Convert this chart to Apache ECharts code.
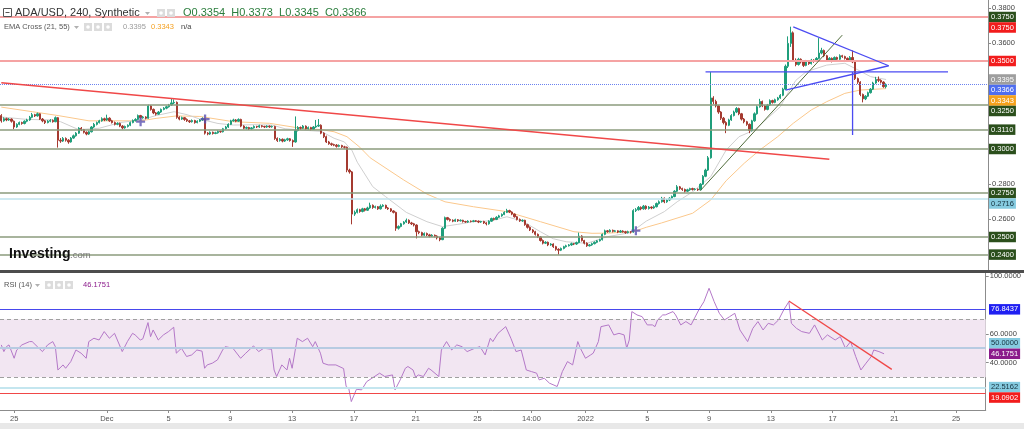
<!DOCTYPE html>
<html><head><meta charset="utf-8">
<script src="https://cdn.jsdelivr.net/npm/echarts@6/dist/echarts.min.js"></script>
<style>html,body{margin:0;padding:0;background:#fff;}#c{width:1024px;height:429px;}</style>
</head><body><div id="c"></div>
<script>
// ---------- DATA ----------
// ADA/USD 4h candles: [open, close, low, high]
const candles = [
[.3190,.3160,.3150,.3198],[.3160,.3172,.3155,.3180],[.3172,.3165,.3158,.3178],[.3165,.3170,.3160,.3176],[.3170,.3158,.3150,.3174],[.3158,.3125,.3112,.3162],[.3125,.3140,.3120,.3146],[.3140,.3150,.3135,.3156],[.3150,.3145,.3138,.3155],[.3145,.3158,.3140,.3163],
[.3158,.3165,.3152,.3172],[.3165,.3180,.3160,.3188],[.3180,.3195,.3175,.3205],[.3195,.3188,.3182,.3200],[.3188,.3200,.3184,.3207],[.3200,.3170,.3165,.3203],[.3170,.3160,.3152,.3176],[.3160,.3150,.3142,.3165],[.3150,.3158,.3146,.3164],[.3158,.3162,.3152,.3170],
[.3162,.3155,.3150,.3168],[.3155,.3178,.3152,.3185],[.3178,.3050,.3008,.3182],[.3050,.3045,.3035,.3062],[.3045,.3060,.3040,.3068],[.3060,.3050,.3042,.3066],[.3050,.3040,.3030,.3056],[.3040,.3062,.3036,.3068],[.3062,.3075,.3058,.3082],[.3075,.3090,.3070,.3096],
[.3090,.3118,.3086,.3124],[.3118,.3110,.3102,.3125],[.3110,.3095,.3088,.3114],[.3095,.3085,.3078,.3100],[.3085,.3098,.3080,.3104],[.3098,.3125,.3094,.3130],[.3125,.3140,.3120,.3148],[.3140,.3150,.3134,.3156],[.3150,.3160,.3145,.3166],[.3160,.3172,.3155,.3180],
[.3172,.3165,.3158,.3178],[.3165,.3175,.3160,.3195],[.3175,.3160,.3154,.3180],[.3160,.3150,.3145,.3166],[.3150,.3140,.3134,.3156],[.3140,.3145,.3135,.3152],[.3145,.3130,.3124,.3150],[.3130,.3120,.3112,.3136],[.3120,.3128,.3115,.3133],[.3128,.3135,.3122,.3140],
[.3135,.3150,.3130,.3156],[.3150,.3162,.3146,.3168],[.3162,.3168,.3156,.3175],[.3168,.3190,.3164,.3196],[.3190,.3178,.3172,.3194],[.3178,.3182,.3172,.3188],[.3182,.3175,.3168,.3186],[.3175,.3245,.3172,.3252],[.3245,.3225,.3218,.3250],[.3225,.3205,.3198,.3230],
[.3205,.3198,.3190,.3210],[.3198,.3210,.3194,.3216],[.3210,.3225,.3205,.3230],[.3225,.3232,.3220,.3238],[.3232,.3240,.3226,.3246],[.3240,.3250,.3235,.3256],[.3250,.3262,.3245,.3285],[.3262,.3265,.3255,.3282],[.3265,.3180,.3172,.3270],[.3180,.3170,.3163,.3186],
[.3170,.3178,.3165,.3184],[.3178,.3168,.3160,.3182],[.3168,.3160,.3154,.3174],[.3160,.3155,.3148,.3165],[.3155,.3162,.3150,.3168],[.3162,.3150,.3144,.3166],[.3150,.3158,.3146,.3163],[.3158,.3165,.3153,.3170],[.3165,.3172,.3160,.3180],[.3172,.3090,.3082,.3176],
[.3090,.3085,.3078,.3096],[.3085,.3095,.3080,.3100],[.3095,.3088,.3082,.3099],[.3088,.3092,.3084,.3098],[.3092,.3100,.3087,.3106],[.3100,.3098,.3092,.3104],[.3098,.3115,.3094,.3120],[.3115,.3125,.3110,.3131],[.3125,.3140,.3120,.3146],[.3140,.3160,.3136,.3166],
[.3160,.3165,.3155,.3172],[.3165,.3158,.3152,.3170],[.3158,.3168,.3154,.3174],[.3168,.3130,.3124,.3172],[.3130,.3118,.3112,.3135],[.3118,.3122,.3112,.3128],[.3122,.3115,.3108,.3126],[.3115,.3120,.3110,.3125],[.3120,.3128,.3116,.3134],[.3128,.3125,.3119,.3132],
[.3125,.3132,.3120,.3138],[.3132,.3128,.3122,.3136],[.3128,.3125,.3119,.3132],[.3125,.3130,.3120,.3135],[.3130,.3126,.3120,.3134],[.3126,.3128,.3121,.3133],[.3128,.3060,.3052,.3132],[.3060,.3048,.3040,.3066],[.3048,.3055,.3042,.3062],[.3055,.3045,.3038,.3060],
[.3045,.3052,.3040,.3058],[.3052,.3058,.3046,.3064],[.3058,.3048,.3042,.3062],[.3048,.3040,.3012,.3054],[.3040,.3105,.3036,.3185],[.3105,.3122,.3100,.3130],[.3122,.3118,.3110,.3128],[.3118,.3130,.3114,.3136],[.3130,.3115,.3110,.3134],[.3115,.3122,.3110,.3128],
[.3122,.3112,.3106,.3126],[.3112,.3125,.3108,.3130],[.3125,.3130,.3120,.3165],[.3130,.3135,.3125,.3170],[.3135,.3090,.3084,.3140],[.3090,.3070,.3062,.3095],[.3070,.3040,.3034,.3076],[.3040,.3030,.3024,.3046],[.3030,.3025,.3018,.3036],[.3025,.3022,.3016,.3030],
[.3022,.3015,.3008,.3028],[.3015,.3020,.3010,.3026],[.3020,.3012,.3006,.3024],[.3012,.3010,.3002,.3018],[.3010,.2880,.2868,.3014],[.2880,.2870,.2860,.2888],[.2870,.2630,.2572,.2875],[.2630,.2640,.2620,.2650],[.2640,.2655,.2634,.2662],[.2655,.2645,.2638,.2660],
[.2645,.2660,.2640,.2666],[.2660,.2652,.2645,.2665],[.2652,.2665,.2648,.2672],[.2665,.2680,.2660,.2695],[.2680,.2668,.2660,.2685],[.2668,.2672,.2662,.2678],[.2672,.2660,.2654,.2676],[.2660,.2675,.2656,.2685],[.2675,.2680,.2670,.2686],[.2680,.2665,.2660,.2684],
[.2665,.2660,.2654,.2670],[.2660,.2648,.2642,.2664],[.2648,.2640,.2634,.2652],[.2640,.2550,.2535,.2644],[.2550,.2560,.2542,.2566],[.2560,.2575,.2555,.2580],[.2575,.2585,.2570,.2590],[.2585,.2595,.2580,.2605],[.2595,.2580,.2574,.2600],[.2580,.2575,.2568,.2586],
[.2575,.2568,.2560,.2580],[.2568,.2530,.2492,.2572],[.2530,.2525,.2516,.2536],[.2525,.2510,.2504,.2530],[.2510,.2520,.2505,.2526],[.2520,.2512,.2505,.2525],[.2512,.2505,.2498,.2518],[.2505,.2510,.2500,.2516],[.2510,.2505,.2498,.2514],[.2505,.2495,.2486,.2510],
[.2495,.2485,.2476,.2500],[.2485,.2550,.2482,.2556],[.2550,.2610,.2545,.2616],[.2610,.2600,.2594,.2614],[.2600,.2595,.2588,.2606],[.2595,.2590,.2584,.2600],[.2590,.2598,.2586,.2604],[.2598,.2592,.2586,.2602],[.2592,.2595,.2588,.2600],[.2595,.2588,.2582,.2598],
[.2588,.2585,.2580,.2592],[.2585,.2590,.2580,.2595],[.2590,.2588,.2583,.2594],[.2588,.2592,.2584,.2597],[.2592,.2590,.2585,.2596],[.2590,.2585,.2579,.2594],[.2585,.2588,.2580,.2592],[.2588,.2580,.2574,.2592],[.2580,.2575,.2566,.2584],[.2575,.2590,.2570,.2595],
[.2590,.2605,.2586,.2610],[.2605,.2600,.2594,.2610],[.2600,.2612,.2596,.2618],[.2612,.2620,.2608,.2626],[.2620,.2628,.2615,.2634],[.2628,.2640,.2624,.2646],[.2640,.2650,.2636,.2660],[.2650,.2642,.2636,.2655],[.2642,.2630,.2624,.2646],[.2630,.2615,.2610,.2634],
[.2615,.2600,.2594,.2620],[.2600,.2592,.2586,.2605],[.2592,.2595,.2586,.2600],[.2595,.2570,.2564,.2598],[.2570,.2555,.2548,.2575],[.2555,.2540,.2534,.2560],[.2540,.2530,.2522,.2545],[.2530,.2515,.2508,.2535],[.2515,.2500,.2494,.2520],[.2500,.2480,.2474,.2505],
[.2480,.2465,.2458,.2486],[.2465,.2470,.2460,.2476],[.2470,.2455,.2448,.2474],[.2455,.2460,.2450,.2465],[.2460,.2445,.2438,.2464],[.2445,.2430,.2422,.2450],[.2430,.2425,.2400,.2436],[.2425,.2435,.2420,.2440],[.2435,.2445,.2430,.2450],[.2445,.2450,.2440,.2456],
[.2450,.2455,.2446,.2460],[.2455,.2462,.2450,.2468],[.2462,.2460,.2454,.2466],[.2460,.2468,.2455,.2474],[.2468,.2505,.2464,.2525],[.2505,.2480,.2474,.2510],[.2480,.2465,.2458,.2484],[.2465,.2450,.2444,.2470],[.2450,.2455,.2446,.2460],[.2455,.2462,.2450,.2468],
[.2462,.2470,.2458,.2475],[.2470,.2478,.2465,.2483],[.2478,.2485,.2474,.2490],[.2485,.2515,.2480,.2520],[.2515,.2535,.2510,.2542],[.2535,.2530,.2524,.2540],[.2530,.2538,.2526,.2544],[.2538,.2532,.2526,.2542],[.2532,.2535,.2528,.2540],[.2535,.2528,.2522,.2538],
[.2528,.2534,.2524,.2540],[.2534,.2530,.2525,.2538],[.2530,.2525,.2518,.2535],[.2525,.2530,.2520,.2536],[.2530,.2528,.2520,.2534],[.2528,.2650,.2524,.2658],[.2650,.2655,.2642,.2664],[.2655,.2668,.2650,.2676],[.2668,.2660,.2652,.2674],[.2660,.2675,.2655,.2682],
[.2675,.2662,.2655,.2680],[.2662,.2670,.2656,.2676],[.2670,.2665,.2658,.2674],[.2665,.2672,.2660,.2680],[.2672,.2690,.2668,.2696],[.2690,.2700,.2684,.2708],[.2700,.2720,.2695,.2728],[.2720,.2700,.2692,.2725],[.2700,.2710,.2694,.2716],[.2710,.2720,.2704,.2726],
[.2720,.2730,.2714,.2736],[.2730,.2760,.2726,.2766],[.2760,.2785,.2755,.2795],[.2785,.2775,.2768,.2790],[.2775,.2770,.2762,.2780],[.2770,.2760,.2752,.2775],[.2760,.2768,.2755,.2774],[.2768,.2775,.2762,.2780],[.2775,.2770,.2764,.2780],[.2770,.2772,.2765,.2778],
[.2772,.2768,.2762,.2776],[.2768,.2800,.2765,.2806],[.2800,.2845,.2796,.2852],[.2845,.2880,.2840,.2888],[.2880,.2950,.2875,.2960],[.2950,.3290,.2945,.3437],[.3290,.3270,.3255,.3300],[.3270,.3245,.3236,.3280],[.3245,.3210,.3200,.3250],[.3210,.3175,.3165,.3215],
[.3175,.3150,.3140,.3182],[.3150,.3135,.3090,.3158],[.3135,.3165,.3130,.3172],[.3165,.3190,.3160,.3198],[.3190,.3210,.3185,.3218],[.3210,.3230,.3204,.3238],[.3230,.3200,.3192,.3235],[.3200,.3170,.3162,.3205],[.3170,.3155,.3146,.3176],[.3155,.3140,.3132,.3160],
[.3140,.3105,.3090,.3145],[.3105,.3160,.3100,.3166],[.3160,.3200,.3155,.3208],[.3200,.3240,.3195,.3248],[.3240,.3270,.3235,.3285],[.3270,.3245,.3238,.3275],[.3245,.3225,.3218,.3250],[.3225,.3250,.3220,.3256],[.3250,.3275,.3245,.3282],[.3275,.3265,.3258,.3280],
[.3265,.3280,.3260,.3286],[.3280,.3290,.3274,.3296],[.3290,.3305,.3285,.3312],[.3305,.3340,.3300,.3348],[.3340,.3470,.3335,.3480],[.3470,.3600,.3460,.3640],[.3600,.3660,.3580,.3695],[.3660,.3505,.3495,.3668],[.3505,.3480,.3470,.3515],[.3480,.3510,.3474,.3518],
[.3510,.3495,.3486,.3515],[.3495,.3475,.3466,.3500],[.3475,.3500,.3470,.3506],[.3500,.3485,.3478,.3505],[.3485,.3505,.3480,.3512],[.3505,.3498,.3490,.3510],[.3498,.3515,.3494,.3522],[.3515,.3545,.3510,.3630],[.3545,.3560,.3538,.3575],[.3560,.3530,.3522,.3565],
[.3530,.3505,.3498,.3535],[.3505,.3515,.3500,.3522],[.3515,.3500,.3492,.3520],[.3500,.3520,.3496,.3526],[.3520,.3510,.3502,.3525],[.3510,.3530,.3505,.3538],[.3530,.3525,.3518,.3535],[.3525,.3515,.3508,.3530],[.3515,.3505,.3498,.3520],[.3505,.3520,.3500,.3528],
[.3520,.3495,.3488,.3560],[.3495,.3400,.3392,.3500],[.3400,.3380,.3370,.3406],[.3380,.3310,.3300,.3385],[.3310,.3285,.3265,.3315],[.3285,.3300,.3278,.3306],[.3300,.3320,.3295,.3326],[.3320,.3340,.3315,.3346],[.3340,.3375,.3335,.3382],[.3375,.3395,.3370,.3410],
[.3395,.3390,.3380,.3412],[.3390,.3380,.3372,.3396],[.3380,.3354,.3348,.3385],[.3354,.3366,.3345,.3373]
];
// EMA(21) and EMA(55): [candle index, value]
const ema21Pts = [[0,.3182],[10,.3168],[20,.3165],[23,.3155],[30,.3110],[38,.3118],[46,.3150],[54,.3165],[60,.3190],[67,.3212],[72,.3195],[77,.3170],[84,.3145],[90,.3136],[98,.3138],[105,.3136],[110,.3115],[116,.3108],[124,.3100],[129,.3061],[133,.3040],[136,.2990],[138,.2925],[144,.2786],[149,.2729],[157,.2640],[165,.2587],[171,.2559],[177,.2572],[183,.2587],[190,.2592],[196,.2615],[202,.2590],[209,.2530],[214,.2490],[219,.2473],[227,.2464],[235,.2502],[244,.2525],[250,.2590],[257,.2644],[262,.2700],[268,.2757],[275,.2843],[281,.2994],[286,.3070],[292,.3108],[297,.3174],[302,.3240],[305,.3320],[308,.3390],[312,.3439],[320,.3477],[327,.3487],[332,.3450],[337,.3411],[343,.3395]];
const ema55Pts = [[0,.3238],[12,.3212],[22,.3190],[34,.3160],[54,.3160],[60,.3174],[68,.3188],[77,.3185],[90,.3155],[104,.3146],[116,.3118],[124,.3110],[129,.3098],[134,.3070],[139,.3010],[143,.2950],[156,.2824],[165,.2744],[172,.2700],[183,.2672],[196,.2644],[209,.2587],[222,.2530],[229,.2521],[235,.2522],[245,.2530],[250,.2555],[256,.2580],[268,.2635],[275,.2710],[281,.2820],[288,.2919],[294,.2994],[301,.3070],[307,.3146],[314,.3222],[320,.3269],[327,.3316],[333,.3335],[343,.3343]];
// RSI(14): [candle index, value]
const rsiPts = [[0,52.3],[1,47.7],[2,51.1],[3,52.3],[5,43.1],[6,48.8],[8,52.3],[11,54.6],[12,54.6],[14,51.1],[16,47.7],[18,52.3],[20,54.6],[21,51.1],[22,35.0],[24,38.5],[25,36.2],[27,40.8],[29,48.8],[31,46.6],[33,43.1],[34,54.6],[36,56.9],[38,55.7],[40,61.5],[42,56.9],[44,60.3],[47,47.7],[49,54.6],[51,60.3],[52,59.2],[54,55.7],[55,56.5],[57,67.7],[58,58.0],[59,62.6],[61,55.7],[63,59.2],[65,61.5],[67,64.5],[68,46.6],[70,50.0],[72,44.3],[74,45.4],[76,48.8],[78,48.0],[79,36.2],[80,38.5],[82,39.7],[84,42.0],[86,48.8],[87,51.1],
[90,50.0],[93,43.1],[95,46.6],[98,51.6],[100,47.7],[102,50.0],[105,49.3],[106,35.0],[107,30.5],[109,38.5],[111,35.0],[112,43.1],[113,36.2],[115,56.9],[117,54.6],[119,56.9],[121,51.1],[122,54.6],[124,46.6],[125,39.7],[127,38.5],[130,38.5],[133,36.0],[134,23.6],[135,22.4],[136,13.2],[138,21.7],[140,21.3],[142,27.0],[144,29.3],[147,32.8],[149,30.5],[152,31.6],[153,21.3],[155,28.2],[157,36.2],[158,37.4],[160,35.0],[161,30.0],[162,31.6],[164,30.5],[166,36.2],[167,35.0],[170,30.5],[171,48.8],[173,54.6],
[175,48.8],[177,52.3],[179,51.1],[181,47.7],[184,50.0],[186,51.1],[188,45.4],[190,56.9],[191,54.6],[193,60.3],[196,64.9],[198,56.9],[200,47.7],[202,48.8],[204,35.0],[206,33.9],[208,32.8],[209,28.2],[211,29.3],[213,25.9],[216,23.6],[218,33.9],[220,40.8],[222,38.5],[224,54.6],[225,50.0],[227,43.1],[229,45.4],[230,46.6],[232,54.6],[233,64.9],[236,66.1],[238,59.2],[240,60.3],[242,59.2],[243,50.0],[244,55.7],[245,75.3],[247,73.0],[249,71.8],[251,66.1],[253,66.1],[254,64.9],[255,69.5],[257,73.0],
[258,73.0],[261,75.3],[262,73.0],[264,66.1],[266,68.4],[268,66.1],[271,76.4],[273,82.1],[275,91.4],[277,82.1],[279,74.1],[281,69.5],[283,71.8],[285,74.1],[287,62.6],[290,54.6],[292,63.7],[294,68.4],[296,62.6],[298,67.2],[300,66.1],[302,69.5],[304,76.4],[306,82.1],[307,67.2],[309,63.7],[311,61.5],[314,60.3],[316,66.1],[319,55.7],[321,59.2],[324,55.7],[326,58.0],[328,50.0],[330,54.6],[332,44.2],[334,35.0],[336,39.7],[338,44.2],[339,48.8],[341,47.7],[343,46.18]];
// EMA cross markers [candle index, price]
const crossPts = [[54,.3155],[79,.3170],[246,.2536]];
// Drawn lines [candle index, value]
const trendRed = [[0,.3376],[321,.2942]];
const triUpper = [[307,.3694],[344,.3473]];
const triLower = [[304,.3335],[344,.3473]];
const riseLine = [[271,.2764],[326,.3647]];
const blueHoriz = [[273,.3438],[367,.3438]];
const blueVert = [[330,.3438],[330,.3080]];
const rsiTrend = [[306,82.6],[346,35.4]];
// Price levels
const greenLevels = [0.3750, 0.3250, 0.3110, 0.3000, 0.2750, 0.2500, 0.2400];
const redLevels = [0.3750, 0.3500];
const cyanLevel = 0.2716;
const lastClose = 0.3366, ema21Last = 0.3395, ema55Last = 0.3343;
const lastOHLC = [0.3354, 0.3373, 0.3345, 0.3366];
const priceTicks = [0.38, 0.36, 0.28, 0.26];
// RSI levels
const rsiBlue = 76.8437, rsiMid = 50, rsiCyan = 22.5162, rsiRed = 19.0902, rsiLast = 46.1751;
const rsiBand = [30, 70];
const rsiTicks = [100, 60, 40];
// Time axis
const candleCount = 383;
const tickDates = ['2021-11-25 02:00','2021-12-01 02:00','2021-12-05 02:00','2021-12-09 02:00','2021-12-13 02:00','2021-12-17 02:00','2021-12-21 02:00','2021-12-25 02:00','2021-12-28 14:00','2022-01-01 02:00','2022-01-05 02:00','2022-01-09 02:00','2022-01-13 02:00','2022-01-17 02:00','2022-01-21 02:00','2022-01-25 02:00'];
const tickLabels = ['25','Dec','5','9','13','17','21','25','14:00','2022','5','9','13','17','21','25'];

// ---------- BUILD ----------
const categories = [];
for (let i = 0; i < candleCount; i++) {
  const d = new Date(Date.UTC(2021, 10, 24, 6) + i * 4 * 3600e3);
  categories.push(d.toISOString().slice(0, 16).replace('T', ' '));
}
const UP = '#1f9e7b', DOWN = '#a53a30';
const OLIVE = '#8b9b7d', PINK = '#f5a3a3', BLUE = '#4b4bf2';
const FONT = '"Liberation Sans", Arial, sans-serif';
const chart = echarts.init(document.getElementById('c'), null, {renderer: 'canvas'});

const hl = (v, color, width, type) => ({yAxis: v, lineStyle: {color, width, type: type || 'solid'}});
const segLine = (data, color, width, xi) => ({
  type: 'line', data, xAxisIndex: xi || 0, yAxisIndex: xi || 0, showSymbol: false, symbol: 'none',
  lineStyle: {color, width}, z: 5, silent: true, animation: false
});

const mainLines = []
  .concat(greenLevels.map(v => hl(v, OLIVE, 1.6)))
  .concat(redLevels.map(v => hl(v, PINK, 2)))
  .concat([hl(cyanLevel, '#bfe3ee', 1.5), hl(lastClose, '#6a82f0', 1, 'dotted')]);

const option = {
  animation: false,
  grid: [
    {left: 0, right: 36, top: 0, height: 270},
    {left: 0, right: 36, top: 272, height: 138}
  ],
  xAxis: [
    {type: 'category', gridIndex: 0, data: categories, axisLine: {show: false}, axisTick: {show: false}, axisLabel: {show: false}, splitLine: {show: false}},
    {type: 'category', gridIndex: 1, data: categories,
      axisLine: {show: true, lineStyle: {color: '#8c8c8c'}},
      axisTick: {show: true, alignWithLabel: true, length: 3, lineStyle: {color: '#8c8c8c'}, interval: (i, v) => tickDates.indexOf(v) >= 0},
      axisLabel: {interval: (i, v) => tickDates.indexOf(v) >= 0, formatter: v => tickLabels[tickDates.indexOf(v)],
        fontSize: 7.5, color: '#555', fontFamily: '"Liberation Sans Narrow", "Liberation Sans", sans-serif', margin: 5},
      splitLine: {show: false}}
  ],
  yAxis: [
    {type: 'value', gridIndex: 0, position: 'right', min: 0.23125, max: 0.38466, splitLine: {show: false},
      axisLine: {show: true, lineStyle: {color: '#8c8c8c'}},
      axisTick: {show: true, length: 3, customValues: priceTicks, lineStyle: {color: '#8c8c8c'}},
      axisLabel: {customValues: priceTicks, formatter: v => v.toFixed(4), fontSize: 7.5, color: '#444', fontFamily: FONT, margin: 4}},
    {type: 'value', gridIndex: 1, position: 'right', min: 7.4, max: 102.6, splitLine: {show: false},
      axisLine: {show: true, lineStyle: {color: '#8c8c8c'}},
      axisTick: {show: true, length: 3, customValues: rsiTicks, lineStyle: {color: '#8c8c8c'}},
      axisLabel: {customValues: rsiTicks, formatter: v => v.toFixed(4), fontSize: 7.5, color: '#444', fontFamily: FONT, margin: 4}}
  ],
  series: [
    {type: 'line', xAxisIndex: 0, yAxisIndex: 0, data: [], z: 1, silent: true,
      markLine: {silent: true, precision: 6, symbol: ['none', 'none'], label: {show: false}, animation: false, data: mainLines}},
    {type: 'line', name: 'EMA55', data: ema55Pts, showSymbol: false, symbol: 'none', lineStyle: {color: '#fbc88c', width: 1}, z: 2, silent: true},
    {type: 'line', name: 'EMA21', data: ema21Pts, showSymbol: false, symbol: 'none', lineStyle: {color: '#cfcfcf', width: 1}, z: 2, silent: true},
    segLine(trendRed, '#f04848', 1.5),
    {type: 'candlestick', name: 'ADA/USD', data: candles, barWidth: 1.8, z: 3, silent: true,
      itemStyle: {color: UP, color0: DOWN, borderColor: UP, borderColor0: DOWN, borderWidth: 1}},
    segLine(riseLine, '#4f6b3a', 1),
    segLine(triUpper, BLUE, 1.3),
    segLine(triLower, BLUE, 1.3),
    segLine(blueHoriz, BLUE, 1.3),
    segLine(blueVert, BLUE, 1.3),
    {type: 'scatter', data: crossPts, symbol: 'path://M3,0H5V3H8V5H5V8H3V5H0V3H3Z', symbolSize: 9,
      itemStyle: {color: '#5a50b0'}, z: 6, silent: true},
    // RSI panel
    {type: 'line', xAxisIndex: 1, yAxisIndex: 1, data: [], z: 1, silent: true,
      markArea: {silent: true, itemStyle: {color: '#f2e6f2'}, data: [[{yAxis: rsiBand[0]}, {yAxis: rsiBand[1]}]]},
      markLine: {silent: true, precision: 6, symbol: ['none', 'none'], label: {show: false}, animation: false, data: [
        hl(rsiBand[1], '#a0a0a0', 1, [4, 3]), hl(rsiBand[0], '#a0a0a0', 1, [4, 3]),
        hl(rsiBlue, '#4848ee', 1.2), hl(rsiMid, '#b7cbe2', 2), hl(rsiCyan, '#c4e6ef', 2), hl(rsiRed, '#f04848', 1.2)
      ]}},
    {type: 'line', name: 'RSI', xAxisIndex: 1, yAxisIndex: 1, data: rsiPts, showSymbol: false, symbol: 'none',
      lineStyle: {color: '#b478c8', width: 1}, z: 3, silent: true},
    segLine(rsiTrend, '#f04848', 1.3, 1)
  ]
};
chart.setOption(option);

// ---------- GRAPHICS (headers, watermark, price tags) ----------
const G = [];
const txt = (x, y, text, size, fill, weight, extra) => Object.assign({type: 'text', x, y, z: 50, silent: true,
  style: {text, fill, font: (weight || 'normal') + ' ' + size + 'px ' + FONT, verticalAlign: 'middle', textVerticalAlign: 'middle', align: 'left'}}, extra || {});
const box = (x, y) => [
  {type: 'rect', z: 50, silent: true, shape: {x, y, width: 8, height: 8}, style: {fill: '#dcdcdc'}},
  {type: 'circle', z: 51, silent: true, shape: {cx: x + 4, cy: y + 4, r: 1.8}, style: {fill: '#fff'}}
];
const caret = (x, y) => ({type: 'polygon', z: 50, silent: true, shape: {points: [[x, y], [x + 5, y], [x + 2.5, y + 3]]}, style: {fill: '#b0b0b0'}});

// Title row
G.push({type: 'rect', z: 50, silent: true, shape: {x: 3.5, y: 8.5, width: 8, height: 8}, style: {fill: '#fff', stroke: '#555', lineWidth: 1}});
G.push({type: 'line', z: 51, silent: true, shape: {x1: 5.5, y1: 12.5, x2: 9.5, y2: 12.5}, style: {stroke: '#555', lineWidth: 1}});
G.push(txt(15, 13, 'ADA/USD, 240, Synthetic', 11, '#333'));
G.push(caret(145, 12));
G.push(...box(157, 9), ...box(167, 9));
const ohlcText = ['O', 'H', 'L', 'C'].map((k, i) => '{k|' + k + '}{v|' + lastOHLC[i].toFixed(4) + '}').join('  ');
G.push({type: 'text', x: 183, y: 13, z: 50, silent: true, style: {text: ohlcText, verticalAlign: 'middle', textVerticalAlign: 'middle',
  font: '11px ' + FONT, fill: '#2a7d3c',
  rich: {k: {fill: '#2a7d3c', font: '11px ' + FONT}, v: {fill: '#2a7d3c', font: '11px ' + FONT}}}});
// EMA row
G.push(txt(4, 27, 'EMA Cross (21, 55)', 7.5, '#555'));
G.push(caret(74, 26));
G.push(...box(84, 23), ...box(94, 23), ...box(104, 23));
G.push(txt(123, 27, ema21Last.toFixed(4), 7.5, '#9a9a9a'));
G.push(txt(151, 27, ema55Last.toFixed(4), 7.5, '#f5a020'));
G.push(txt(181, 27, 'n/a', 7.5, '#444'));
// RSI row
G.push(txt(4, 285, 'RSI (14)', 7.5, '#555'));
G.push(caret(35, 284));
G.push(...box(45, 281), ...box(55, 281), ...box(65, 281));
G.push(txt(83, 285, rsiLast.toFixed(4), 7.5, '#8b1a8b'));
// Watermark
G.push(txt(9, 254, 'Investing', 14, '#111', 'bold'));
G.push(txt(70, 255, '.com', 9.5, '#777'));
// separator and bottom strip
G.push({type: 'rect', z: 40, silent: true, shape: {x: 0, y: 270, width: 1024, height: 3}, style: {fill: '#4d4d4d'}});
G.push({type: 'rect', z: 40, silent: true, shape: {x: 0, y: 423, width: 1024, height: 6}, style: {fill: '#e8e8e8'}});

// Price tags on the right axis
const DG = '#2b4f1c', RED = '#f21c1c', CY = '#86cbe0';
const mainTags = [
  [greenLevels[0], DG, '#fff'], [redLevels[0], RED, '#fff'], [redLevels[1], RED, '#fff'],
  [ema21Last, '#9e9e9e', '#fff'], [lastClose, '#4f6ef0', '#fff'], [ema55Last, '#f6a21c', '#fff'],
  [greenLevels[1], DG, '#fff'], [greenLevels[2], DG, '#fff'], [greenLevels[3], DG, '#fff'],
  [greenLevels[4], DG, '#fff'], [cyanLevel, CY, '#14303c'], [greenLevels[5], DG, '#fff'], [greenLevels[6], DG, '#fff']
];
const tagEl = (y, text, bg, fg) => ({type: 'text', x: 989, y, z: 60, silent: true,
  style: {text, fill: fg, backgroundColor: bg, padding: [1.5, 2, 1, 2], font: '7.5px ' + FONT,
    verticalAlign: 'middle', textVerticalAlign: 'middle', align: 'left'}});
let prevY = -100;
mainTags.map(t => ({t, y: chart.convertToPixel({yAxisIndex: 0}, t[0])}))
  .sort((a, b) => a.y - b.y)
  .forEach(o => { const y = Math.max(o.y, prevY + 10.5); prevY = y; G.push(tagEl(y, o.t[0].toFixed(4), o.t[1], o.t[2])); });
const rsiTags = [[rsiBlue, '#1f1ff2', '#fff', 0], [rsiMid, CY, '#14303c', -5], [rsiLast, '#8b1a8b', '#fff', 0],
  [rsiCyan, CY, '#14303c', -1], [rsiRed, RED, '#fff', 4.5]];
rsiTags.forEach(t => G.push(tagEl(chart.convertToPixel({yAxisIndex: 1}, t[0]) + t[3], t[0].toFixed(4), t[1], t[2])));

chart.setOption({graphic: {elements: G}});
</script></body></html>
